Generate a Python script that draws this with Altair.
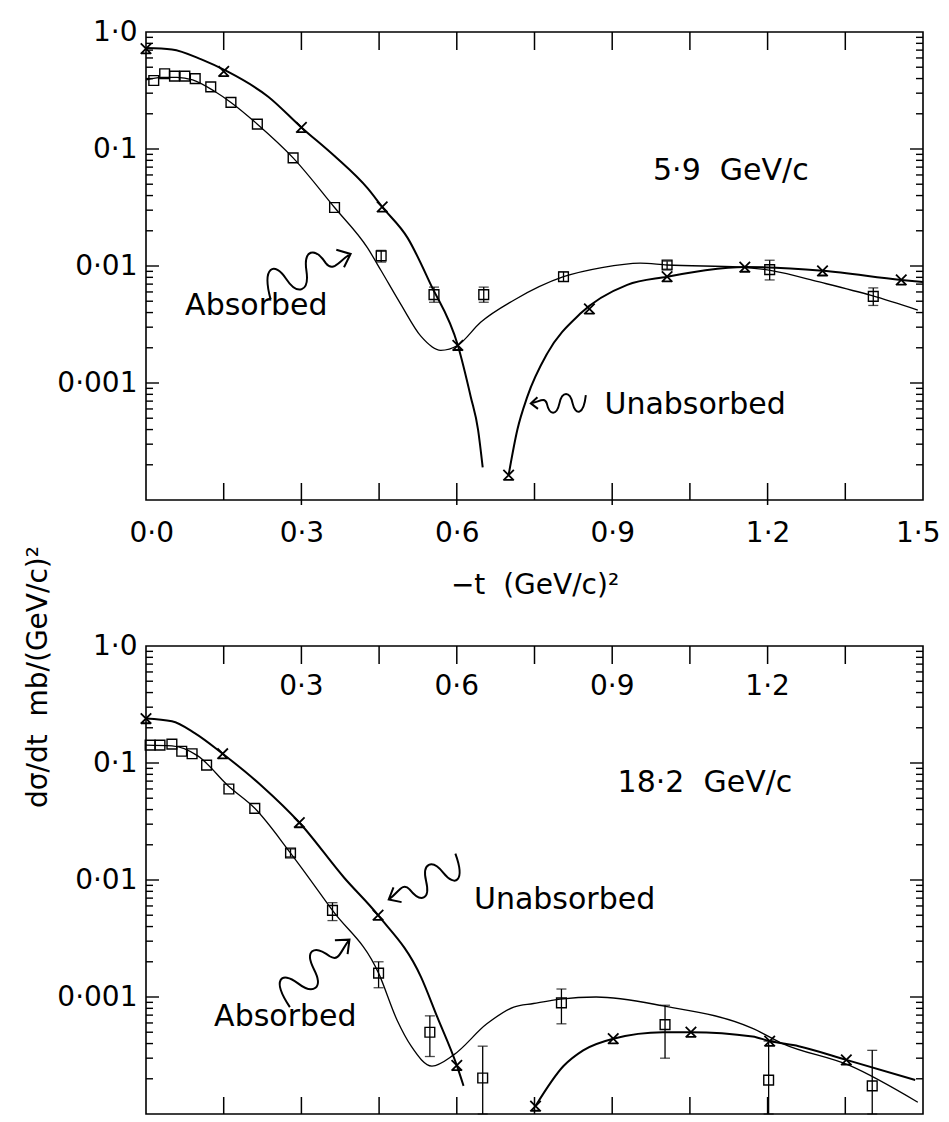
import altair as alt
import pandas as pd

FONT = "DejaVu Sans"

# ---------------- 5.9 GeV/c panel ----------------
top_sq_x = [0.015, 0.036, 0.055, 0.075, 0.095, 0.125, 0.164, 0.215, 0.284, 0.364, 0.454, 0.556, 0.652, 0.806, 1.006, 1.204, 1.404]
top_sq_y = [0.385, 0.44, 0.42, 0.42, 0.40, 0.34, 0.25, 0.163, 0.084, 0.0316, 0.0122, 0.0057, 0.0057, 0.0081, 0.0102, 0.0093, 0.0055]
top_sq_lo = [0.385, 0.44, 0.42, 0.42, 0.40, 0.34, 0.25, 0.163, 0.084, 0.0316, 0.0108, 0.0049, 0.0049, 0.0074, 0.0094, 0.0076, 0.0046]
top_sq_hi = [0.385, 0.44, 0.42, 0.42, 0.40, 0.34, 0.25, 0.163, 0.084, 0.0316, 0.0136, 0.0066, 0.0066, 0.0089, 0.0110, 0.0112, 0.0065]

top_cross_x = [0.0, 0.15, 0.30, 0.456, 0.602, 0.70, 0.856, 1.006, 1.156, 1.306, 1.458]
top_cross_y = [0.72, 0.46, 0.153, 0.032, 0.0021, 0.000163, 0.0043, 0.0081, 0.0098, 0.0091, 0.0076]

top_unabs1_x = [0.0, 0.05, 0.108, 0.157, 0.236, 0.30, 0.364, 0.428, 0.456, 0.505, 0.55, 0.602, 0.627, 0.641, 0.65]
top_unabs1_y = [0.73, 0.71, 0.58, 0.46, 0.28, 0.153, 0.087, 0.046, 0.032, 0.0174, 0.0069, 0.0021, 0.00076, 0.00040, 0.00019]
top_unabs2_x = [0.70, 0.717, 0.736, 0.775, 0.838, 0.929, 1.006, 1.08, 1.156, 1.306, 1.458, 1.5]
top_unabs2_y = [0.000163, 0.0004, 0.00076, 0.0018, 0.0039, 0.0069, 0.0081, 0.0092, 0.0098, 0.0091, 0.0076, 0.0073]

top_abs_x = [0.0, 0.03, 0.06, 0.09, 0.133, 0.164, 0.215, 0.284, 0.364, 0.428, 0.454, 0.492, 0.531, 0.569, 0.602, 0.646, 0.71, 0.806, 0.88, 0.954, 1.006, 1.146, 1.21, 1.30, 1.40, 1.49]
top_abs_y = [0.39, 0.41, 0.41, 0.39, 0.31, 0.25, 0.163, 0.084, 0.0316, 0.0142, 0.0091, 0.0047, 0.0025, 0.0019, 0.0021, 0.0033, 0.0051, 0.0081, 0.0097, 0.0106, 0.0102, 0.0098, 0.0091, 0.0073, 0.0056, 0.0042]

top_ann_text = ["5·9\u00a0\u00a0GeV/c", "Absorbed", "Unabsorbed"]
top_ann_x = [1.129, 0.213, 1.06]
top_ann_y = [0.0651, 0.00458, 0.00065]

top_arrow_x = [0.313, 0.796]
top_arrow_y = [0.0092, 0.00067]
top_arrow_len = [91, 55]
top_arrow_angle = [339, 180]

# ---------------- 18.2 GeV/c panel ----------------
bot_sq_x = [0.008, 0.027, 0.05, 0.069, 0.089, 0.117, 0.16, 0.21, 0.279, 0.36, 0.449, 0.548, 0.65, 0.802, 1.002, 1.202, 1.402]
bot_sq_y = [0.142, 0.142, 0.145, 0.126, 0.12, 0.096, 0.060, 0.041, 0.017, 0.0055, 0.0016, 0.0005, 0.000203, 0.00089, 0.00058, 0.000195, 0.000174]
bot_sq_lo = [0.142, 0.142, 0.145, 0.126, 0.12, 0.096, 0.060, 0.041, 0.0158, 0.0045, 0.0012, 0.00031, 0.0001, 0.00059, 0.0003, 0.0001, 0.0001]
bot_sq_hi = [0.142, 0.142, 0.145, 0.126, 0.12, 0.096, 0.060, 0.041, 0.0184, 0.0064, 0.0020, 0.00069, 0.00038, 0.00117, 0.00085, 0.00042, 0.00035]

bot_cross_x = [0.0, 0.148, 0.296, 0.448, 0.60, 0.752, 0.902, 1.052, 1.204, 1.352]
bot_cross_y = [0.24, 0.12, 0.031, 0.0050, 0.00026, 0.000117, 0.00044, 0.0005, 0.00042, 0.00029]

bot_unabs1_x = [0.0, 0.05, 0.094, 0.148, 0.223, 0.296, 0.383, 0.448, 0.531, 0.562, 0.60, 0.613]
bot_unabs1_y = [0.24, 0.227, 0.18, 0.12, 0.064, 0.031, 0.0104, 0.0050, 0.00148, 0.00068, 0.00026, 0.000174]
bot_unabs2_x = [0.752, 0.806, 0.844, 0.902, 0.998, 1.052, 1.171, 1.204, 1.26, 1.352, 1.485]
bot_unabs2_y = [0.000117, 0.000257, 0.00035, 0.00044, 0.0005, 0.0005, 0.00046, 0.00042, 0.00038, 0.00029, 0.000195]

bot_abs_x = [0.0, 0.05, 0.1, 0.16, 0.21, 0.279, 0.36, 0.449, 0.485, 0.512, 0.552, 0.594, 0.658, 0.71, 0.748, 0.80, 0.869, 0.998, 1.171, 1.229, 1.358, 1.49]
bot_abs_y = [0.142, 0.14, 0.115, 0.063, 0.041, 0.017, 0.0055, 0.0016, 0.00063, 0.00038, 0.000257, 0.00032, 0.00059, 0.00082, 0.00088, 0.00096, 0.001, 0.00084, 0.00054, 0.0004, 0.00026, 0.000126]

bot_ann_text = ["18·2\u00a0\u00a0GeV/c", "Unabsorbed", "Absorbed"]
bot_ann_x = [1.079, 0.808, 0.269]
bot_ann_y = [0.0677, 0.00677, 0.000677]

bot_arrow_x = [0.538, 0.327]
bot_arrow_y = [0.00962, 0.00176]
bot_arrow_len = [80, 89]
bot_arrow_angle = [154, 320]

# ---------------- axes ----------------
x_label_values = [0.0, 0.3, 0.6, 0.9, 1.2, 1.5]
x_label_text = ["0·0", "0·3", "0·6", "0·9", "1·2", "1·5"]
x_tick_values = [0.15, 0.3, 0.45, 0.6, 0.75, 0.9, 1.05, 1.2, 1.35]
x_cross_tick_values = [0.3, 0.6, 0.9, 1.2]
inner_label_values = [0.3, 0.6, 0.9, 1.2]
inner_label_text = ["0·3", "0·6", "0·9", "1·2"]
y_label_values = [1.0, 0.1, 0.01, 0.001]
y_label_text = ["1·0", "0·1", "0·01", "0·001"]
y_major_ticks = [0.1, 0.01, 0.001]
y_minor_ticks = [k * d for d in [1e-4, 1e-3, 1e-2, 1e-1] for k in range(2, 10)]

x_title = "\u2212t\u00a0\u00a0(GeV/c)²"
y_title = "dσ/dt\u00a0\u00a0mb/(GeV/c)²"

# wavy arrow glyph (unit box, pointing right)
SQUIGGLE = ("M-1,0.3 C-0.92,-0.45 -0.62,-0.45 -0.52,0 C-0.42,0.45 -0.14,0.45 -0.04,0 "
            "C0.06,-0.45 0.32,-0.45 0.42,0 C0.5,0.25 0.7,0.05 1,0 M0.74,-0.2 L1,0 L0.76,0.22")
CROSS = "M-1,-1L1,1M1,-1L-1,1M-0.8,0.9L0.8,0.9"

W, H = 777, 468

xs = alt.Scale(domain=[0, 1.5], nice=False, zero=False)
ys = alt.Scale(type="log", domain=[1e-4, 1], nice=False)


def js_list(v):
    return "[" + ",".join(repr(e) if not isinstance(e, str) else "'" + e + "'" for e in v) + "]"


y_axis = alt.Axis(values=y_label_values, ticks=False, tickSize=0, domain=False, grid=False,
                  labelExpr=f"{js_list(y_label_text)}[indexof({js_list(y_label_values)}, datum.value)]",
                  labelFont=FONT, labelFontSize=28, labelColor="black", labelPadding=9, title=None)


def x_axis(show):
    if show:
        return alt.Axis(values=x_label_values, ticks=False, tickSize=0, domain=False, grid=False,
                        labelExpr=f"{js_list(x_label_text)}[indexof({js_list(x_label_values)}, datum.value)]",
                        labelFont=FONT, labelFontSize=28, labelColor="black", labelPadding=19,
                        labelFlush=True, labelFlushOffset=17,
                        title=x_title, titleFont=FONT, titleFontSize=28,
                        titleFontWeight="normal", titleColor="black", titlePadding=24)
    return alt.Axis(labels=False, ticks=False, tickSize=0, domain=False, grid=False, title=None)


def panel(sq, cr, un1, un2, ab, ann, arr, show_x, inner, extra=None):
    xa = x_axis(show_x)

    def X(f):
        return alt.X(f"{f}:Q", scale=xs, axis=xa)

    def Y(f):
        return alt.Y(f"{f}:Q", scale=ys, axis=y_axis)

    sq_df = pd.DataFrame({"x": sq[0], "y": sq[1], "lo": sq[2], "hi": sq[3]})
    cr_df = pd.DataFrame({"x": cr[0], "y": cr[1]})
    un_df = pd.concat([
        pd.DataFrame({"x": un1[0], "y": un1[1], "b": "1"}),
        pd.DataFrame({"x": un2[0], "y": un2[1], "b": "2"}),
    ])
    ab_df = pd.DataFrame({"x": ab[0], "y": ab[1]})
    ann_df = pd.DataFrame({"t": ann[0], "x": ann[1], "y": ann[2]})
    arr_df = pd.DataFrame({"x": arr[0], "y": arr[1], "s": [v * v for v in arr[2]], "a": arr[3]})

    layers = []
    # frame ticks (inward)
    xt = pd.DataFrame({"v": x_tick_values})
    layers.append(alt.Chart(xt).mark_rule(color="black", strokeWidth=1.5).encode(
        x=X("v"), y=alt.value(H), y2=alt.value(H - 17)))
    layers.append(alt.Chart(xt).mark_rule(color="black", strokeWidth=1.5).encode(
        x=X("v"), y=alt.value(0), y2=alt.value(18)))
    if show_x:
        layers.append(alt.Chart(pd.DataFrame({"v": x_cross_tick_values})).mark_rule(
            color="black", strokeWidth=1.5).encode(x=X("v"), y=alt.value(H), y2=alt.value(H + 5)))
    ymaj = pd.DataFrame({"v": y_major_ticks})
    ymin = pd.DataFrame({"v": y_minor_ticks})
    for df, ln in ((ymaj, 13), (ymin, 7)):
        layers.append(alt.Chart(df).mark_rule(color="black", strokeWidth=1.4).encode(
            y=Y("v"), x=alt.value(0), x2=alt.value(ln)))
        layers.append(alt.Chart(df).mark_rule(color="black", strokeWidth=1.4).encode(
            y=Y("v"), x=alt.value(W), x2=alt.value(W - ln)))
    # curves
    layers.append(alt.Chart(ab_df).mark_line(color="black", strokeWidth=1.3, interpolate="monotone",
                                             clip=True).encode(x=X("x"), y=Y("y")))
    layers.append(alt.Chart(un_df).mark_line(color="black", strokeWidth=2.0, interpolate="monotone",
                                             clip=True).encode(x=X("x"), y=Y("y"), detail="b:N"))
    # error bars
    eb = alt.Chart(sq_df).transform_filter("datum.hi > datum.lo")
    layers.append(eb.mark_rule(color="black", strokeWidth=1.3).encode(x=X("x"), y=Y("lo"), y2="hi:Q"))
    layers.append(eb.mark_tick(orient="horizontal", color="black", size=10, thickness=1.3).encode(
        x=X("x"), y=Y("lo")))
    layers.append(eb.mark_tick(orient="horizontal", color="black", size=10, thickness=1.3).encode(
        x=X("x"), y=Y("hi")))
    # data squares
    layers.append(alt.Chart(sq_df).mark_point(shape="square", filled=False, size=95, color="black",
                                              strokeWidth=1.4, opacity=1).encode(x=X("x"), y=Y("y")))
    # unabsorbed markers
    layers.append(alt.Chart(cr_df).mark_point(shape=CROSS, filled=False, size=110, color="black",
                                              strokeWidth=1.8, opacity=1).encode(x=X("x"), y=Y("y")))
    # annotations
    layers.append(alt.Chart(ann_df).mark_text(font=FONT, fontSize=30, color="black", align="center",
                                              baseline="middle").encode(
        x=X("x"), y=Y("y"), text="t:N"))
    layers.append(alt.Chart(arr_df).mark_point(shape=SQUIGGLE, filled=False, color="black",
                                               strokeWidth=2, opacity=1).encode(
        x=X("x"), y=Y("y"), size=alt.Size("s:Q", scale=None, legend=None),
        angle=alt.Angle("a:Q", scale=None, legend=None)))
    if inner:
        ilab = pd.DataFrame({"v": inner[0], "t": inner[1]})
        layers.append(alt.Chart(ilab).mark_text(font=FONT, fontSize=28, color="black", align="center",
                                                baseline="middle").encode(
            x=X("v"), y=alt.value(41), text="t:N"))
    if extra is not None:
        layers.append(extra)
    return alt.layer(*layers).properties(width=W, height=H)


ytitle_layer = alt.Chart(pd.DataFrame({"t": [y_title]})).mark_text(
    font=FONT, fontSize=28, color="black", angle=270, align="center", baseline="middle").encode(
    text="t:N", x=alt.value(-107), y=alt.value(645))

top = panel((top_sq_x, top_sq_y, top_sq_lo, top_sq_hi), (top_cross_x, top_cross_y),
            (top_unabs1_x, top_unabs1_y), (top_unabs2_x, top_unabs2_y), (top_abs_x, top_abs_y),
            (top_ann_text, top_ann_x, top_ann_y),
            (top_arrow_x, top_arrow_y, top_arrow_len, top_arrow_angle), True, None,
            extra=ytitle_layer)
bottom = panel((bot_sq_x, bot_sq_y, bot_sq_lo, bot_sq_hi), (bot_cross_x, bot_cross_y),
               (bot_unabs1_x, bot_unabs1_y), (bot_unabs2_x, bot_unabs2_y), (bot_abs_x, bot_abs_y),
               (bot_ann_text, bot_ann_x, bot_ann_y),
               (bot_arrow_x, bot_arrow_y, bot_arrow_len, bot_arrow_angle), False,
               (inner_label_values, inner_label_text))

chart = alt.vconcat(top, bottom, spacing=146, bounds="flush").properties(
    padding={"left": 16, "top": 9, "right": 0, "bottom": 0}
).configure_view(stroke="black", strokeWidth=1.6)

chart.save("out.html", embed_options={"renderer": "svg", "actions": False})
